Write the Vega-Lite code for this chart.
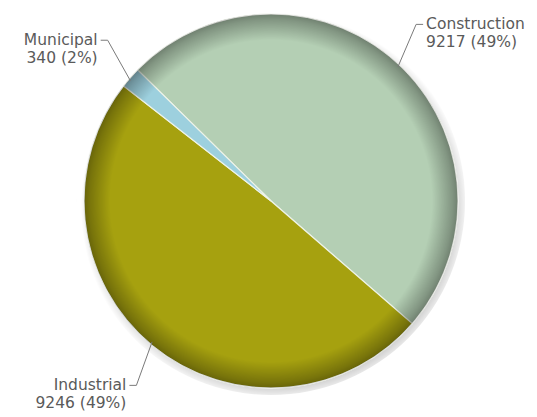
{
  "$schema": "https://vega.github.io/schema/vega-lite/v6.json",
  "width": 537,
  "height": 417,
  "autosize": {"type": "fit", "contains": "padding"},
  "padding": {"left": 5, "top": 0, "right": 0, "bottom": 5},
  "background": "white",
  "config": {"view": {"stroke": null}},
  "data": {
    "values": [
      {"category": "Construction", "value": 9217, "order": 1},
      {"category": "Industrial", "value": 9246, "order": 2},
      {"category": "Municipal", "value": 340, "order": 3}
    ]
  },
  "transform": [
    {"joinaggregate": [{"op": "sum", "field": "value", "as": "total"}]},
    {"window": [{"op": "sum", "field": "value", "as": "cum"}], "sort": [{"field": "order", "order": "ascending"}], "frame": [null, 0]},
    {"calculate": "5.489 + 2*PI*(datum.cum - datum.value/2)/datum.total", "as": "a"},
    {"calculate": "sin(datum.a)*cos(datum.a) > 0 ? -0.07 : 0.07", "as": "tw"},
    {"calculate": "187*sin(datum.a)", "as": "x0"},
    {"calculate": "187*cos(datum.a)", "as": "y0"},
    {"calculate": "232*sin(datum.a+datum.tw)", "as": "x1"},
    {"calculate": "232*cos(datum.a+datum.tw)", "as": "y1"},
    {"calculate": "datum.x1 + (sin(datum.a) > 0 ? 7 : -7)", "as": "x2"},
    {"calculate": "datum.x2 + (sin(datum.a) > 0 ? 3 : -3)", "as": "xt"},
    {"calculate": "datum.category + '\\n' + datum.value + ' (' + round(100*datum.value/datum.total) + '%)'", "as": "label"}
  ],
  "layer": [
    {
      "transform": [{"aggregate": [{"op": "sum", "field": "value", "as": "all"}]}],
      "mark": {
        "type": "arc",
        "outerRadius": 194,
        "fill": {
          "gradient": "radial",
          "x1": 0.51, "y1": 0.515, "r1": 0,
          "x2": 0.51, "y2": 0.515, "r2": 0.5,
          "stops": [
            {"offset": 0, "color": "rgba(0,0,0,0.25)"},
            {"offset": 0.9, "color": "rgba(0,0,0,0.25)"},
            {"offset": 1, "color": "rgba(0,0,0,0)"}
          ]
        }
      },
      "encoding": {"theta": {"field": "all", "type": "quantitative"}}
    },
    {
      "mark": {"type": "arc", "outerRadius": 187, "stroke": "#eef3e8", "strokeWidth": 1.2},
      "encoding": {
        "theta": {"field": "value", "type": "quantitative", "stack": true, "scale": {"range": [5.489, 11.7722]}},
        "order": {"field": "order", "type": "quantitative", "sort": "ascending"},
        "color": {
          "field": "category",
          "type": "nominal",
          "scale": {"domain": ["Construction", "Industrial", "Municipal"], "range": ["#b4cfb4", "#a6a10f", "#9dd0de"]},
          "legend": null
        }
      }
    },
    {
      "transform": [{"aggregate": [{"op": "sum", "field": "value", "as": "all"}]}],
      "mark": {
        "type": "arc",
        "outerRadius": 187,
        "stroke": "rgba(255,255,255,0.55)",
        "strokeWidth": 1,
        "fill": {
          "gradient": "radial",
          "x1": 0.5, "y1": 0.5, "r1": 0,
          "x2": 0.5, "y2": 0.5, "r2": 0.5,
          "stops": [
            {"offset": 0, "color": "rgba(0,0,0,0)"},
            {"offset": 0.86, "color": "rgba(0,0,0,0)"},
            {"offset": 0.97, "color": "rgba(0,0,0,0.28)"},
            {"offset": 1, "color": "rgba(0,0,0,0.38)"}
          ]
        }
      },
      "encoding": {"theta": {"field": "all", "type": "quantitative"}}
    },
    {
      "mark": {"type": "rule", "color": "#7a7a7a", "strokeWidth": 1},
      "encoding": {
        "x": {"field": "x0", "type": "quantitative", "scale": {"domain": [-266, 266], "nice": false, "zero": false}, "axis": null},
        "y": {"field": "y0", "type": "quantitative", "scale": {"domain": [-206, 206], "nice": false, "zero": false}, "axis": null},
        "x2": {"field": "x1"},
        "y2": {"field": "y1"}
      }
    },
    {
      "mark": {"type": "rule", "color": "#7a7a7a", "strokeWidth": 1},
      "encoding": {
        "x": {"field": "x1", "type": "quantitative"},
        "y": {"field": "y1", "type": "quantitative"},
        "x2": {"field": "x2"},
        "y2": {"field": "y1"}
      }
    },
    {
      "transform": [{"filter": "sin(datum.a) > 0"}],
      "mark": {"type": "text", "align": "left", "baseline": "middle", "font": "DejaVu Sans", "fontSize": 15.5, "lineHeight": 18, "color": "#5a5a5a", "lineBreak": "\n"},
      "encoding": {
        "x": {"field": "xt", "type": "quantitative"},
        "y": {"field": "y1", "type": "quantitative"},
        "text": {"field": "label", "type": "nominal"}
      }
    },
    {
      "transform": [{"filter": "sin(datum.a) <= 0"}],
      "mark": {"type": "text", "align": "right", "baseline": "middle", "font": "DejaVu Sans", "fontSize": 15.5, "lineHeight": 18, "color": "#5a5a5a", "lineBreak": "\n"},
      "encoding": {
        "x": {"field": "xt", "type": "quantitative"},
        "y": {"field": "y1", "type": "quantitative"},
        "text": {"field": "label", "type": "nominal"}
      }
    }
  ],
  "resolve": {"scale": {"theta": "independent"}}
}
